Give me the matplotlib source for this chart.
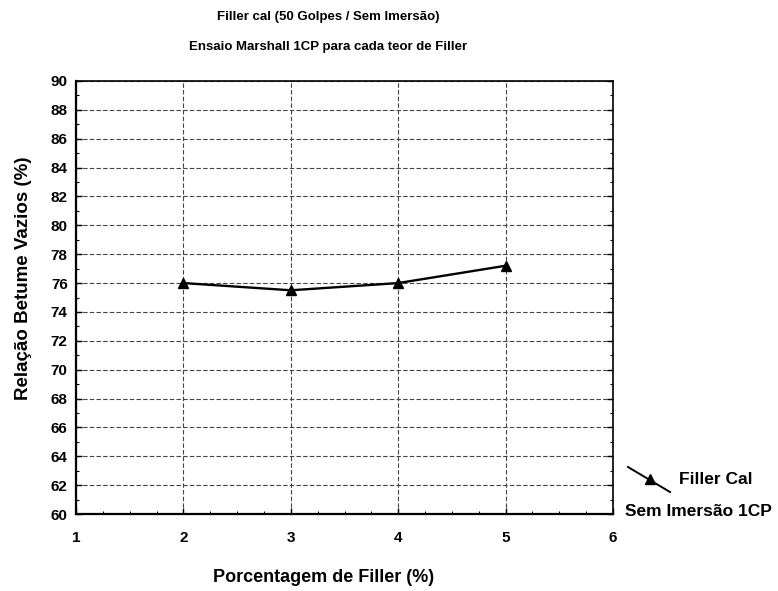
import matplotlib
matplotlib.use("Agg")
import matplotlib.pyplot as plt
from matplotlib.lines import Line2D
from matplotlib.ticker import MultipleLocator

plt.rcParams['font.family'] = ['Liberation Sans', 'DejaVu Sans']

filler_pct = [2, 3, 4, 5]
rbv = [76.0, 75.5, 76.0, 77.2]

title1 = "Filler cal (50 Golpes / Sem Imersão)"
title2 = "Ensaio Marshall 1CP para cada teor de Filler"
xlabel = "Porcentagem de Filler (%)"
ylabel = "Relação Betume Vazios (%)"
legend1 = "Filler Cal"
legend2 = "Sem Imersão 1CP"

W, H = 778, 591
fig = plt.figure(figsize=(W / 100, H / 100), dpi=100)
# plot box in pixels: left 76, right 613, top 81, bottom 514
L, R, T, B = 76, 613, 81, 514
ax = fig.add_axes([L / W, 1 - B / H, (R - L) / W, (B - T) / H])

ax.plot(filler_pct, rbv, color='black', lw=1.7, marker='^', ms=7.5,
        markerfacecolor='black', markeredgecolor='black', zorder=3)

ax.set_xlim(1, 6)
ax.set_ylim(60, 90)
ax.xaxis.set_major_locator(MultipleLocator(1))
ax.xaxis.set_minor_locator(MultipleLocator(0.25))
ax.yaxis.set_major_locator(MultipleLocator(2))
ax.yaxis.set_minor_locator(MultipleLocator(1))
ax.tick_params(which='both', direction='in', top=False, right=True)
ax.tick_params(which='major', length=4, width=1, labelsize=11)
ax.tick_params(which='minor', length=2.5, width=0.8)
ax.tick_params(axis='x', which='major', pad=12)
ax.tick_params(axis='y', which='major', pad=6)
for lab in ax.get_xticklabels() + ax.get_yticklabels():
    lab.set_fontweight('bold')

ax.grid(True, which='major', color='#444444', ls=(0, (4, 2)), lw=0.8)

for side in ('top', 'right'):
    ax.spines[side].set_linewidth(1.2)
ax.spines['left'].set_linewidth(1.6)
ax.spines['bottom'].set_linewidth(1.6)

ax.set_xlabel(xlabel, fontsize=13, fontweight='bold', va='center', ha='center')
ax.xaxis.set_label_coords((324 - L) / (R - L), -(578 - B) / (B - T))
ax.set_ylabel(ylabel, fontsize=13.5, fontweight='bold', va='center', ha='center',
              rotation_mode='default')
ax.yaxis.set_label_coords(-(L - 24) / (R - L), (B - 278) / (B - T))

fig.text(328 / W, 1 - 17 / H, title1, ha='center', va='center', fontsize=9.5, fontweight='bold')
fig.text(328 / W, 1 - 47 / H, title2, ha='center', va='center', fontsize=9.5, fontweight='bold')

# legend entry drawn outside the axes
fig.add_artist(Line2D([628 / W, 670 / W], [1 - 467 / H, 1 - 492 / H],
                      transform=fig.transFigure, color='black', lw=1.4))
fig.add_artist(Line2D([650 / W], [1 - 479 / H], transform=fig.transFigure,
                      color='black', marker='^', ms=7, ls='none'))
fig.text(679 / W, 1 - 480 / H, legend1, ha='left', va='center', fontsize=12.5, fontweight='bold')
fig.text(625 / W, 1 - 512 / H, legend2, ha='left', va='center', fontsize=12.5, fontweight='bold')

fig.savefig("out.png", dpi=100, facecolor='white')
